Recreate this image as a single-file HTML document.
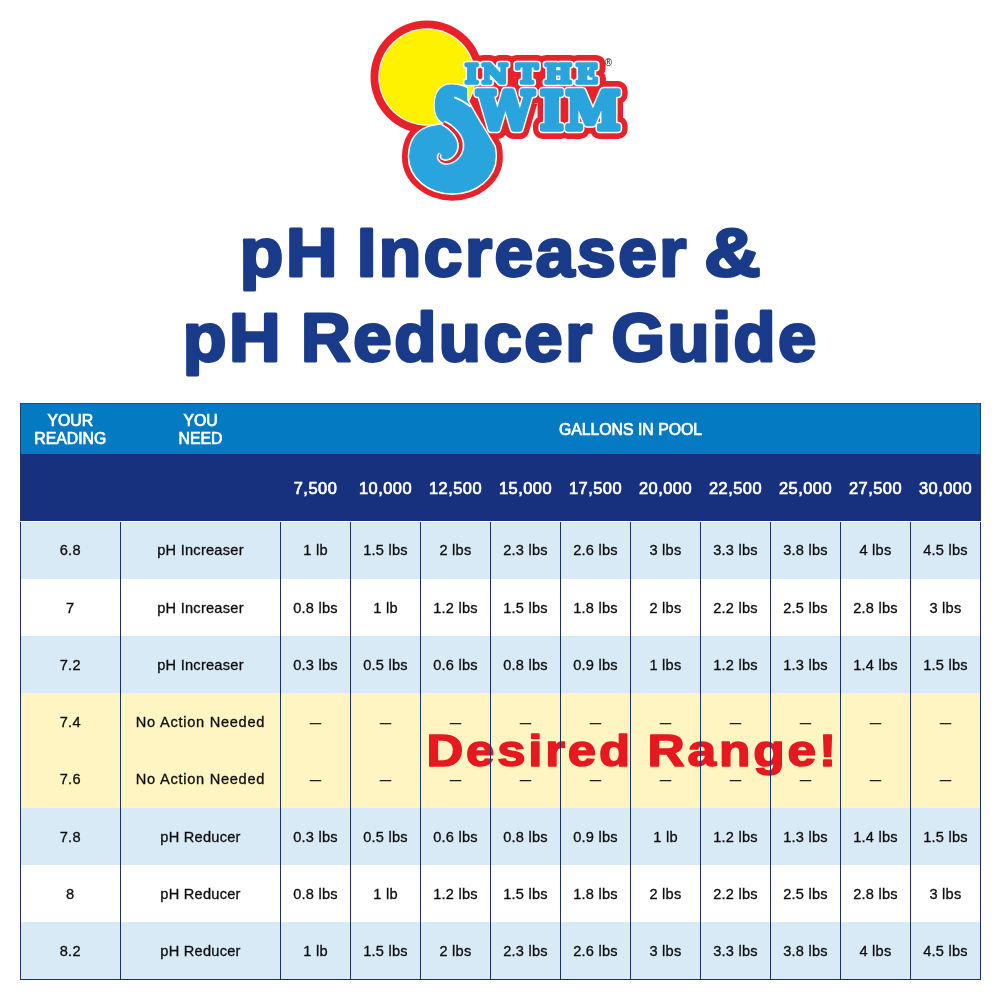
<!DOCTYPE html>
<html lang="en"><head><meta charset="utf-8"><title>pH Increaser &amp; pH Reducer Guide</title>
<style>
html,body{margin:0;padding:0;background:#fff;}
#page{position:relative;width:1000px;height:1000px;overflow:hidden;background:#fff;font-family:"Liberation Sans",sans-serif;}
#tbl div{position:absolute}
.band{left:20px;width:961.4px}
.hb1{background:#047ac2}
.hb2{background:#18317e}
.hd{color:#fff;font-weight:normal;font-size:15.8px;line-height:18px;text-align:center;white-space:nowrap;-webkit-text-stroke:0.7px #fff}
.hd.g{font-size:16.4px;letter-spacing:0.5px}
.c{color:#0d0d0d;font-size:14.6px;letter-spacing:0.25px;line-height:20px;text-align:center;white-space:nowrap;-webkit-text-stroke:0.3px #0d0d0d}
.vl{width:1.5px;background:#1c3068}
.hl{height:1.4px;background:#1c3068}
.c.d{font-size:11px;letter-spacing:0;-webkit-text-stroke:0.5px #111;margin-top:-0.6px}
.c.na{letter-spacing:0.73px}
</style></head>
<body>
<div id="page">
<svg id="logo" width="1000" height="220" viewBox="0 0 1000 220" style="position:absolute;left:0;top:0">
<circle cx="427" cy="77" r="56.5" fill="#e8222a"/>
<g aria-hidden="true" fill="#e8222a" stroke="#e8222a" stroke-linejoin="round" stroke-linecap="round">
<path d="M409.7 157 C409.7 141 417 131.5 428 127.8 C434 125.8 441 125 448 125 L481 125 L494 146.5 C494.8 150 495.1 153 495.1 157 A42.7 35.9 0 0 1 409.7 157 Z" stroke-width="15.5"/>
<path d="M456 108 L480 150" fill="none" stroke-width="41.5"/>
<text font-family="'DejaVu Sans','Liberation Sans',sans-serif" font-weight="bold" font-size="80" x="432.6" y="147.2" textLength="39.7" lengthAdjust="spacingAndGlyphs" stroke-width="19.5">S</text>
<text font-family="'DejaVu Serif','Liberation Serif',serif" font-weight="bold" font-size="51.4" transform="scale(0.96,1)" x="497.67 562.71 589.44" y="129.25" stroke-width="20.0">WIM</text>
<text font-family="'DejaVu Serif','Liberation Serif',serif" font-weight="bold" font-size="26.6" transform="scale(1.07,1)" x="434.68 450.51 471.96 482.68 509.09 538.21" y="82.7" stroke-width="18.1">IN THE</text>
</g>
<circle cx="427" cy="77" r="48.7" fill="#ffffff"/>
<circle cx="427" cy="77" r="47.5" fill="#fff200"/>
<g aria-hidden="true" fill="#ffffff" stroke="#ffffff" stroke-linejoin="round" stroke-linecap="round">
<path d="M409.7 157 C409.7 141 417 131.5 428 127.8 C434 125.8 441 125 448 125 L481 125 L494 146.5 C494.8 150 495.1 153 495.1 157 A42.7 35.9 0 0 1 409.7 157 Z" stroke-width="4.0"/>
<path d="M456 108 L480 150" fill="none" stroke-width="30.0"/>
<text font-family="'DejaVu Sans','Liberation Sans',sans-serif" font-weight="bold" font-size="80" x="432.6" y="147.2" textLength="39.7" lengthAdjust="spacingAndGlyphs" stroke-width="8.0">S</text>
<text font-family="'DejaVu Serif','Liberation Serif',serif" font-weight="bold" font-size="51.4" transform="scale(0.96,1)" x="497.67 562.71 589.44" y="129.25" stroke-width="8.5">WIM</text>
<text font-family="'DejaVu Serif','Liberation Serif',serif" font-weight="bold" font-size="26.6" transform="scale(1.07,1)" x="434.68 450.51 471.96 482.68 509.09 538.21" y="82.7" stroke-width="6.6">IN THE</text>
</g>
<g fill="#29a4dd" stroke="#29a4dd" stroke-linejoin="round" stroke-linecap="round">
<path d="M409.7 157 C409.7 141 417 131.5 428 127.8 C434 125.8 441 125 448 125 L481 125 L494 146.5 C494.8 150 495.1 153 495.1 157 A42.7 35.9 0 0 1 409.7 157 Z" stroke-width="1"/>
<path d="M456 108 L480 150" fill="none" stroke-width="27"/>
<text font-family="'DejaVu Serif','Liberation Serif',serif" font-weight="bold" font-size="26.6" transform="scale(1.07,1)" x="434.68 450.51 471.96 482.68 509.09 538.21" y="82.7" stroke-width="3.6">IN THE</text>
<text font-family="'DejaVu Sans','Liberation Sans',sans-serif" font-weight="bold" font-size="80" x="432.6" y="147.2" textLength="39.7" lengthAdjust="spacingAndGlyphs" stroke-width="5">S</text><text font-family="'DejaVu Serif','Liberation Serif',serif" font-weight="bold" font-size="51.4" transform="scale(0.96,1)" x="497.67 562.71 589.44" y="129.25" stroke-width="5.5">WIM</text>
</g>
<path d="M455 97.6 Q462 100 470 106.3" fill="none" stroke="#ffffff" stroke-width="2" stroke-linecap="round"/>
<path d="M442.2 125.5 L444.5 126.8 L446.5 128.2 L448.5 129.8 L450.3 131.4 L451.9 133.1 L453.4 134.9 L454.7 136.8 L455.7 138.6 L456.6 140.5 L457.2 142.3 L457.5 144.1 L457.6 145.9 L457.4 147.9 L457.0 149.8 L456.4 151.5 L455.6 153.1 L454.6 154.5 L453.4 155.8 L452.2 156.9 L450.8 157.9 L449.4 158.6 L448.0 159.2 L446.6 159.5 L445.2 159.6 L444.4 159.5 L443.6 159.3 L442.9 159.0 L442.3 158.7 L441.8 158.3 L441.4 157.9 L441.1 157.5 L440.9 157.0 L440.9 156.6 L440.9 156.2 L441.1 155.7 L441.6 155.1 L438.8 152.9 L438.1 153.9 L437.5 155.0 L437.2 156.3 L437.1 157.6 L437.4 158.8 L437.9 160.0 L438.6 161.1 L439.5 162.1 L440.6 162.9 L441.8 163.6 L443.2 164.1 L444.8 164.4 L447.0 164.5 L449.2 164.2 L451.3 163.6 L453.5 162.7 L455.5 161.5 L457.4 160.1 L459.1 158.3 L460.7 156.3 L462.0 154.1 L463.0 151.6 L463.7 149.0 L464.0 146.1 L463.9 143.4 L463.3 140.7 L462.5 138.1 L461.3 135.7 L459.9 133.3 L458.2 131.1 L456.3 129.0 L454.2 127.1 L452.0 125.3 L449.7 123.6 L447.2 122.2 L444.8 120.9Z" fill="#ffffff" stroke="#ffffff" stroke-width="0.6" stroke-linejoin="round"/>
<path d="M442.9 124.3 L445.1 125.7 L447.3 127.1 L449.3 128.7 L451.1 130.4 L452.9 132.2 L454.4 134.1 L455.8 136.1 L456.9 138.0 L457.8 140.0 L458.4 142.0 L458.8 144.0 L458.9 146.0 L458.7 148.1 L458.3 150.1 L457.6 152.0 L456.7 153.8 L455.6 155.3 L454.3 156.8 L452.9 158.0 L451.5 159.0 L449.9 159.9 L448.3 160.4 L446.7 160.8 L445.1 160.9 L444.1 160.7 L443.1 160.5 L442.2 160.1 L441.4 159.7 L440.8 159.2 L440.3 158.6 L439.9 157.9 L439.7 157.2 L439.6 156.5 L439.7 155.8 L440.0 155.0 L440.6 154.3 L439.8 153.7 L439.2 154.5 L438.7 155.4 L438.5 156.4 L438.4 157.4 L438.6 158.4 L439.0 159.3 L439.6 160.2 L440.3 161.0 L441.3 161.8 L442.3 162.4 L443.5 162.8 L444.9 163.1 L446.9 163.2 L448.9 162.9 L450.9 162.4 L452.8 161.6 L454.7 160.5 L456.5 159.1 L458.1 157.5 L459.6 155.6 L460.8 153.6 L461.8 151.2 L462.4 148.7 L462.7 146.0 L462.6 143.5 L462.1 141.0 L461.3 138.6 L460.2 136.3 L458.8 134.1 L457.2 131.9 L455.3 129.9 L453.4 128.0 L451.2 126.3 L448.9 124.7 L446.5 123.3 L444.1 122.1Z" fill="#e8222a"/>
<text x="608.5" y="65.5" font-family="'Liberation Sans',sans-serif" font-size="10" text-anchor="middle" fill="#111">®</text>
</svg>
<svg id="title" width="1000" height="400" viewBox="0 0 1000 400" style="position:absolute;left:0;top:0" role="heading" aria-level="1"><g font-family="'Liberation Sans',sans-serif" font-weight="bold" font-size="68" letter-spacing="2.5" fill="#1a3a8a" stroke="#1a3a8a" stroke-width="3" stroke-linejoin="round">
<text transform="translate(239.86,276.3) scale(1.0460,1)">pH</text>
<text transform="translate(356.93,276.3) scale(1.0219,1)">Increaser</text>
<text transform="translate(704.20,276.3) scale(1.1478,1)">&amp;</text>
<text transform="translate(182.85,360.6) scale(1.0506,1)">pH</text>
<text transform="translate(300.96,360.6) scale(1.0140,1)">Reducer</text>
<text transform="translate(611.49,360.6) scale(1.0109,1)">Guide</text>
</g></svg>
<div id="tbl">
<div class="band hb1" style="top:403.3px;height:50.39999999999998px"></div>
<div class="band hb2" style="top:453.7px;height:67.80000000000001px"></div>
<div class="band" style="top:521.50px;height:57.25px;background:#d9eaf7"></div>
<div class="band" style="top:578.75px;height:57.25px;background:#ffffff"></div>
<div class="band" style="top:636.00px;height:57.25px;background:#d9eaf7"></div>
<div class="band" style="top:693.25px;height:57.25px;background:#fff5c3"></div>
<div class="band" style="top:750.50px;height:57.25px;background:#fff5c3"></div>
<div class="band" style="top:807.75px;height:57.25px;background:#d9eaf7"></div>
<div class="band" style="top:865.00px;height:57.25px;background:#ffffff"></div>
<div class="band" style="top:922.25px;height:57.25px;background:#d9eaf7"></div>
<div class="hd" style="left:20px;width:100.5px;top:412px">YOUR<br>READING</div>
<div class="hd" style="left:120.5px;width:160px;top:412px">YOU<br>NEED</div>
<div class="hd" style="left:280.5px;width:700px;top:420.8px">GALLONS IN POOL</div>
<div class="hd g" style="left:280.5px;width:70px;top:478.8px">7,500</div>
<div class="hd g" style="left:350.5px;width:70px;top:478.8px">10,000</div>
<div class="hd g" style="left:420.5px;width:70px;top:478.8px">12,500</div>
<div class="hd g" style="left:490.5px;width:70px;top:478.8px">15,000</div>
<div class="hd g" style="left:560.5px;width:70px;top:478.8px">17,500</div>
<div class="hd g" style="left:630.5px;width:70px;top:478.8px">20,000</div>
<div class="hd g" style="left:700.5px;width:70px;top:478.8px">22,500</div>
<div class="hd g" style="left:770.5px;width:70px;top:478.8px">25,000</div>
<div class="hd g" style="left:840.5px;width:70px;top:478.8px">27,500</div>
<div class="hd g" style="left:910.5px;width:70px;top:478.8px">30,000</div>
<div class="c" style="left:20px;width:100.5px;top:540.4px">6.8</div> <div class="c" style="left:120.5px;width:160px;top:540.4px">pH Increaser</div> <div class="c" style="left:280.5px;width:70px;top:540.4px">1 lb</div> <div class="c" style="left:350.5px;width:70px;top:540.4px">1.5 lbs</div> <div class="c" style="left:420.5px;width:70px;top:540.4px">2 lbs</div> <div class="c" style="left:490.5px;width:70px;top:540.4px">2.3 lbs</div> <div class="c" style="left:560.5px;width:70px;top:540.4px">2.6 lbs</div> <div class="c" style="left:630.5px;width:70px;top:540.4px">3 lbs</div> <div class="c" style="left:700.5px;width:70px;top:540.4px">3.3 lbs</div> <div class="c" style="left:770.5px;width:70px;top:540.4px">3.8 lbs</div> <div class="c" style="left:840.5px;width:70px;top:540.4px">4 lbs</div> <div class="c" style="left:910.5px;width:70px;top:540.4px">4.5 lbs</div> 
<div class="c" style="left:20px;width:100.5px;top:597.7px">7</div> <div class="c" style="left:120.5px;width:160px;top:597.7px">pH Increaser</div> <div class="c" style="left:280.5px;width:70px;top:597.7px">0.8 lbs</div> <div class="c" style="left:350.5px;width:70px;top:597.7px">1 lb</div> <div class="c" style="left:420.5px;width:70px;top:597.7px">1.2 lbs</div> <div class="c" style="left:490.5px;width:70px;top:597.7px">1.5 lbs</div> <div class="c" style="left:560.5px;width:70px;top:597.7px">1.8 lbs</div> <div class="c" style="left:630.5px;width:70px;top:597.7px">2 lbs</div> <div class="c" style="left:700.5px;width:70px;top:597.7px">2.2 lbs</div> <div class="c" style="left:770.5px;width:70px;top:597.7px">2.5 lbs</div> <div class="c" style="left:840.5px;width:70px;top:597.7px">2.8 lbs</div> <div class="c" style="left:910.5px;width:70px;top:597.7px">3 lbs</div> 
<div class="c" style="left:20px;width:100.5px;top:654.9px">7.2</div> <div class="c" style="left:120.5px;width:160px;top:654.9px">pH Increaser</div> <div class="c" style="left:280.5px;width:70px;top:654.9px">0.3 lbs</div> <div class="c" style="left:350.5px;width:70px;top:654.9px">0.5 lbs</div> <div class="c" style="left:420.5px;width:70px;top:654.9px">0.6 lbs</div> <div class="c" style="left:490.5px;width:70px;top:654.9px">0.8 lbs</div> <div class="c" style="left:560.5px;width:70px;top:654.9px">0.9 lbs</div> <div class="c" style="left:630.5px;width:70px;top:654.9px">1 lbs</div> <div class="c" style="left:700.5px;width:70px;top:654.9px">1.2 lbs</div> <div class="c" style="left:770.5px;width:70px;top:654.9px">1.3 lbs</div> <div class="c" style="left:840.5px;width:70px;top:654.9px">1.4 lbs</div> <div class="c" style="left:910.5px;width:70px;top:654.9px">1.5 lbs</div> 
<div class="c" style="left:20px;width:100.5px;top:712.2px">7.4</div> <div class="c na" style="left:120.5px;width:160px;top:712.2px">No Action Needed</div> <div class="c d" style="left:280.5px;width:70px;top:713.0px">—</div> <div class="c d" style="left:350.5px;width:70px;top:713.0px">—</div> <div class="c d" style="left:420.5px;width:70px;top:713.0px">—</div> <div class="c d" style="left:490.5px;width:70px;top:713.0px">—</div> <div class="c d" style="left:560.5px;width:70px;top:713.0px">—</div> <div class="c d" style="left:630.5px;width:70px;top:713.0px">—</div> <div class="c d" style="left:700.5px;width:70px;top:713.0px">—</div> <div class="c d" style="left:770.5px;width:70px;top:713.0px">—</div> <div class="c d" style="left:840.5px;width:70px;top:713.0px">—</div> <div class="c d" style="left:910.5px;width:70px;top:713.0px">—</div> 
<div class="c" style="left:20px;width:100.5px;top:769.4px">7.6</div> <div class="c na" style="left:120.5px;width:160px;top:769.4px">No Action Needed</div> <div class="c d" style="left:280.5px;width:70px;top:769.4px">—</div> <div class="c d" style="left:350.5px;width:70px;top:769.4px">—</div> <div class="c d" style="left:420.5px;width:70px;top:769.4px">—</div> <div class="c d" style="left:490.5px;width:70px;top:769.4px">—</div> <div class="c d" style="left:560.5px;width:70px;top:769.4px">—</div> <div class="c d" style="left:630.5px;width:70px;top:769.4px">—</div> <div class="c d" style="left:700.5px;width:70px;top:769.4px">—</div> <div class="c d" style="left:770.5px;width:70px;top:769.4px">—</div> <div class="c d" style="left:840.5px;width:70px;top:769.4px">—</div> <div class="c d" style="left:910.5px;width:70px;top:769.4px">—</div> 
<div class="c" style="left:20px;width:100.5px;top:826.7px">7.8</div> <div class="c" style="left:120.5px;width:160px;top:826.7px">pH Reducer</div> <div class="c" style="left:280.5px;width:70px;top:826.7px">0.3 lbs</div> <div class="c" style="left:350.5px;width:70px;top:826.7px">0.5 lbs</div> <div class="c" style="left:420.5px;width:70px;top:826.7px">0.6 lbs</div> <div class="c" style="left:490.5px;width:70px;top:826.7px">0.8 lbs</div> <div class="c" style="left:560.5px;width:70px;top:826.7px">0.9 lbs</div> <div class="c" style="left:630.5px;width:70px;top:826.7px">1 lb</div> <div class="c" style="left:700.5px;width:70px;top:826.7px">1.2 lbs</div> <div class="c" style="left:770.5px;width:70px;top:826.7px">1.3 lbs</div> <div class="c" style="left:840.5px;width:70px;top:826.7px">1.4 lbs</div> <div class="c" style="left:910.5px;width:70px;top:826.7px">1.5 lbs</div> 
<div class="c" style="left:20px;width:100.5px;top:883.9px">8</div> <div class="c" style="left:120.5px;width:160px;top:883.9px">pH Reducer</div> <div class="c" style="left:280.5px;width:70px;top:883.9px">0.8 lbs</div> <div class="c" style="left:350.5px;width:70px;top:883.9px">1 lb</div> <div class="c" style="left:420.5px;width:70px;top:883.9px">1.2 lbs</div> <div class="c" style="left:490.5px;width:70px;top:883.9px">1.5 lbs</div> <div class="c" style="left:560.5px;width:70px;top:883.9px">1.8 lbs</div> <div class="c" style="left:630.5px;width:70px;top:883.9px">2 lbs</div> <div class="c" style="left:700.5px;width:70px;top:883.9px">2.2 lbs</div> <div class="c" style="left:770.5px;width:70px;top:883.9px">2.5 lbs</div> <div class="c" style="left:840.5px;width:70px;top:883.9px">2.8 lbs</div> <div class="c" style="left:910.5px;width:70px;top:883.9px">3 lbs</div> 
<div class="c" style="left:20px;width:100.5px;top:941.2px">8.2</div> <div class="c" style="left:120.5px;width:160px;top:941.2px">pH Reducer</div> <div class="c" style="left:280.5px;width:70px;top:941.2px">1 lb</div> <div class="c" style="left:350.5px;width:70px;top:941.2px">1.5 lbs</div> <div class="c" style="left:420.5px;width:70px;top:941.2px">2 lbs</div> <div class="c" style="left:490.5px;width:70px;top:941.2px">2.3 lbs</div> <div class="c" style="left:560.5px;width:70px;top:941.2px">2.6 lbs</div> <div class="c" style="left:630.5px;width:70px;top:941.2px">3 lbs</div> <div class="c" style="left:700.5px;width:70px;top:941.2px">3.3 lbs</div> <div class="c" style="left:770.5px;width:70px;top:941.2px">3.8 lbs</div> <div class="c" style="left:840.5px;width:70px;top:941.2px">4 lbs</div> <div class="c" style="left:910.5px;width:70px;top:941.2px">4.5 lbs</div> 
<svg id="dr" width="1000" height="120" viewBox="0 690 1000 120" style="position:absolute;left:0;top:690px"><g font-family="'Liberation Sans',sans-serif" font-weight="bold" font-size="45.2" letter-spacing="2.5" fill="#e5191f" stroke="#e5191f" stroke-width="1.6" stroke-linejoin="round">
<text transform="translate(426.55,765.7) scale(1.1254,1)">Desired</text>
<text transform="translate(647.52,765.7) scale(1.1388,1)">Range!</text>
</g></svg>
<div class="vl" style="left:119.8px;top:521.5px;height:458.0px"></div><div class="vl" style="left:279.8px;top:521.5px;height:458.0px"></div><div class="vl" style="left:349.8px;top:521.5px;height:458.0px"></div><div class="vl" style="left:419.8px;top:521.5px;height:458.0px"></div><div class="vl" style="left:489.8px;top:521.5px;height:458.0px"></div><div class="vl" style="left:559.8px;top:521.5px;height:458.0px"></div><div class="vl" style="left:629.8px;top:521.5px;height:458.0px"></div><div class="vl" style="left:699.8px;top:521.5px;height:458.0px"></div><div class="vl" style="left:769.8px;top:521.5px;height:458.0px"></div><div class="vl" style="left:839.8px;top:521.5px;height:458.0px"></div><div class="vl" style="left:909.8px;top:521.5px;height:458.0px"></div>
<div class="vl" style="left:20px;width:1.3px;top:521.5px;height:458.4px"></div><div class="vl" style="left:980.1px;width:1.3px;top:521.5px;height:458.4px"></div><div class="vl" style="left:20px;width:1px;top:402.90000000000003px;height:118.6px;opacity:.75"></div><div class="vl" style="left:980.4px;width:1px;top:402.90000000000003px;height:118.6px;opacity:.75"></div><div class="hl" style="left:20px;top:978.5px;width:961.4px"></div><div class="hl" style="left:20px;top:402.90000000000003px;width:961.4px;height:1px;opacity:.55"></div>
</div>
</div>
</body></html>
